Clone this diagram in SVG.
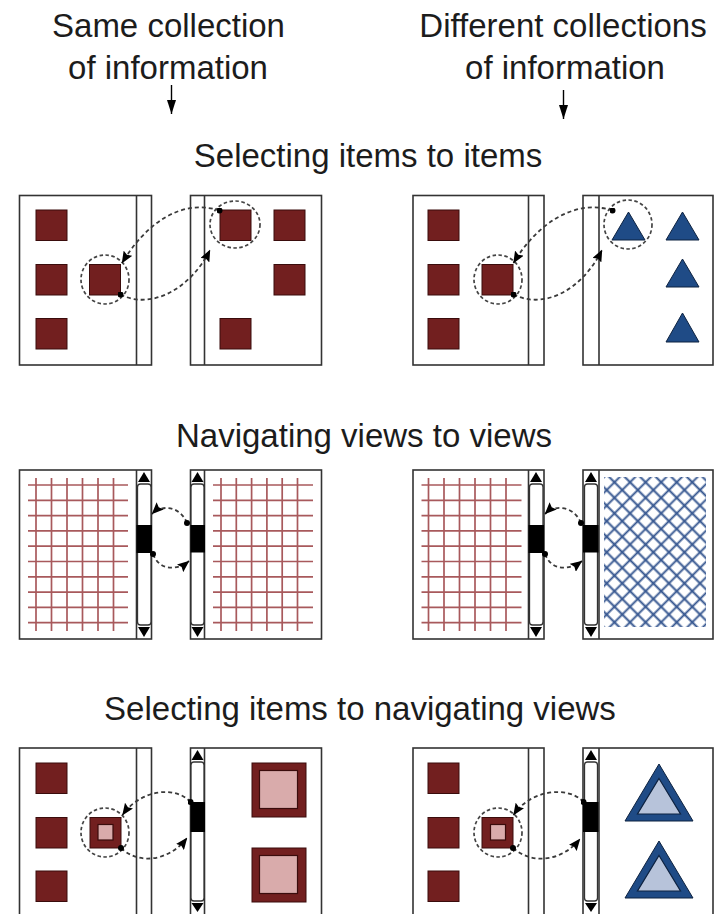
<svg xmlns="http://www.w3.org/2000/svg" width="723" height="914" viewBox="0 0 723 914">
<style>
text{font-family:"Liberation Sans",Arial,sans-serif;font-size:33px;fill:#1c1c1c;text-anchor:middle}
.panel{fill:#fff;stroke:#333;stroke-width:1.6}
.div{stroke:#333;stroke-width:1.6;fill:none}
.sq{fill:#721f1f;stroke:#3a0c0c;stroke-width:1}
.pink{fill:#d9abab;stroke:#3a0c0c;stroke-width:1.2}
.tri{fill:#1f4b86;stroke:#0d2240;stroke-width:1}
.ltri{fill:#b7c3da;stroke:#0d2240;stroke-width:1.2}
.sel{fill:none;stroke:#444;stroke-width:1.7;stroke-dasharray:3.5 2.5}
.conn{fill:none;stroke:#3a3a3a;stroke-width:1.8;stroke-dasharray:4 3;marker-start:url(#dot);marker-end:url(#arr)}
.grid{fill:none;stroke:#922f33;stroke-width:1.7;opacity:.8}
.trough{fill:#fff;stroke:#333;stroke-width:1.3}
.blk{fill:#000}
</style>
<defs>
<marker id="arr" viewBox="0 0 12 10" refX="11.5" refY="5" markerWidth="12" markerHeight="10" markerUnits="userSpaceOnUse" orient="auto"><path d="M0,0 L12,5 L0,10 L2,5 Z" fill="#000"/></marker>
<marker id="dot" viewBox="0 0 6 6" refX="3" refY="3" markerWidth="6" markerHeight="6" markerUnits="userSpaceOnUse"><circle cx="3" cy="3" r="3" fill="#000"/></marker>
<marker id="hd" viewBox="0 0 14 9" refX="14" refY="4.5" markerWidth="14" markerHeight="9" markerUnits="userSpaceOnUse" orient="auto"><path d="M0,0 L14,4.5 L0,9 Z" fill="#000"/></marker>
<pattern id="hatch" width="11" height="11" patternUnits="userSpaceOnUse" patternTransform="rotate(45)"><path d="M0,5.5 H11 M5.5,0 V11" stroke="#34558f" stroke-width="1.9"/></pattern>
</defs>

<g id="headers">
<text x="168.5" y="37">Same collection</text>
<text x="168" y="79">of information</text>
<text x="563" y="37">Different collections</text>
<text x="565" y="79">of information</text>
<line x1="171.5" y1="85" x2="171.5" y2="114" stroke="#000" stroke-width="1.4" marker-end="url(#hd)"/>
<line x1="563.5" y1="90" x2="563.5" y2="119" stroke="#000" stroke-width="1.4" marker-end="url(#hd)"/>
</g>

<g id="titles">
<text x="368" y="167">Selecting items to items</text>
<text x="364" y="447">Navigating views to views</text>
<text x="360" y="720">Selecting items to navigating views</text>
</g>

<!-- Row 1 -->
<g id="r1-left-a">
<rect class="panel" x="19.5" y="195.5" width="132" height="169.5"/>
<line class="div" x1="136.5" y1="195.5" x2="136.5" y2="365"/>
<rect class="sq" x="36" y="210" width="31" height="30.5"/>
<rect class="sq" x="36" y="264.5" width="31" height="30.5"/>
<rect class="sq" x="36" y="318.5" width="31" height="30.5"/>
<rect class="sq" x="89.5" y="264.5" width="31" height="30.5"/>
<ellipse class="sel" cx="105" cy="279.5" rx="24" ry="24.5"/>
</g>
<g id="r1-left-b">
<rect class="panel" x="190.5" y="195.5" width="131" height="169.5"/>
<line class="div" x1="204.5" y1="195.5" x2="204.5" y2="365"/>
<rect class="sq" x="220" y="210" width="31" height="30.5"/>
<rect class="sq" x="274" y="210" width="31" height="30.5"/>
<rect class="sq" x="274" y="264.5" width="31" height="30.5"/>
<rect class="sq" x="220" y="318.5" width="31" height="30.5"/>
<ellipse class="sel" cx="235" cy="224.5" rx="25" ry="23.5"/>
</g>
<g id="r1-right-c">
<rect class="panel" x="413" y="195.5" width="131" height="169.5"/>
<line class="div" x1="528.5" y1="195.5" x2="528.5" y2="365"/>
<rect class="sq" x="428" y="210" width="31" height="30.5"/>
<rect class="sq" x="428" y="264.5" width="31" height="30.5"/>
<rect class="sq" x="428" y="318.5" width="31" height="30.5"/>
<rect class="sq" x="482" y="264.5" width="31" height="30.5"/>
<ellipse class="sel" cx="498" cy="279.5" rx="24" ry="24.5"/>
</g>
<g id="r1-right-d">
<rect class="panel" x="583" y="195.5" width="130" height="169.5"/>
<line class="div" x1="599" y1="195.5" x2="599" y2="365"/>
<path class="tri" d="M628.5,212 L645,240 L612,240 Z"/>
<path class="tri" d="M682.5,212 L699,240 L666,240 Z"/>
<path class="tri" d="M682.5,259 L699,287 L666,287 Z"/>
<path class="tri" d="M682.5,313 L699,342 L666,342 Z"/>
<ellipse class="sel" cx="628" cy="224.5" rx="24" ry="24.5"/>
</g>

<!-- Row 2 -->
<g id="r2-left-e">
<rect class="panel" x="19.5" y="470" width="132" height="169"/>
<path class="grid" d="M36,478V631M51.5,478V631M67,478V631M82.5,478V631M98,478V631M113.5,478V631M28,485H128M28,500.3H128M28,515.6H128M28,530.9H128M28,546.2H128M28,561.5H128M28,576.8H128M28,592.1H128M28,607.4H128M28,622.7H128"/>
<line class="div" x1="136.5" y1="470" x2="136.5" y2="639"/>
<path class="blk" d="M144,472 L138,482 L150,482 Z"/>
<rect class="trough" x="137.5" y="484" width="13.5" height="141" rx="3"/>
<path class="blk" d="M144,637 L138,627 L150,627 Z"/>
<rect class="blk" x="136.5" y="525" width="15.5" height="28"/>
</g>
<g id="r2-left-f">
<rect class="panel" x="190.5" y="470" width="131" height="169"/>
<path class="grid" d="M221,478V631M236.3,478V631M251.6,478V631M266.9,478V631M282.2,478V631M297.5,478V631M213,485H313M213,500.3H313M213,515.6H313M213,530.9H313M213,546.2H313M213,561.5H313M213,576.8H313M213,592.1H313M213,607.4H313M213,622.7H313"/>
<line class="div" x1="204.5" y1="470" x2="204.5" y2="639"/>
<path class="blk" d="M197.5,472 L191.5,482 L203.5,482 Z"/>
<rect class="trough" x="191" y="484" width="13" height="141" rx="3"/>
<path class="blk" d="M197.5,637 L191.5,627 L203.5,627 Z"/>
<rect class="blk" x="190.5" y="525" width="14.5" height="27.5"/>
</g>
<g id="r2-right-g">
<rect class="panel" x="413" y="470" width="131" height="169"/>
<path class="grid" d="M428.5,478V631M444,478V631M459.5,478V631M475,478V631M490.5,478V631M506,478V631M421.5,485H521.5M421.5,500.3H521.5M421.5,515.6H521.5M421.5,530.9H521.5M421.5,546.2H521.5M421.5,561.5H521.5M421.5,576.8H521.5M421.5,592.1H521.5M421.5,607.4H521.5M421.5,622.7H521.5"/>
<line class="div" x1="528.5" y1="470" x2="528.5" y2="639"/>
<path class="blk" d="M536,472 L530,482 L542,482 Z"/>
<rect class="trough" x="529.5" y="484" width="13.5" height="141" rx="3"/>
<path class="blk" d="M536,637 L530,627 L542,627 Z"/>
<rect class="blk" x="528.5" y="525" width="15.5" height="28"/>
</g>
<g id="r2-right-h">
<rect class="panel" x="583" y="470" width="130" height="169"/>
<rect x="604" y="477" width="102" height="150" fill="url(#hatch)"/>
<line class="div" x1="599" y1="470" x2="599" y2="639"/>
<path class="blk" d="M591,472 L585,482 L597,482 Z"/>
<rect class="trough" x="584.5" y="484" width="13" height="141" rx="3"/>
<path class="blk" d="M591,637 L585,627 L597,627 Z"/>
<rect class="blk" x="583" y="525" width="15.5" height="27.5"/>
</g>

<!-- Row 3 -->
<g id="r3-left-i">
<rect class="panel" x="19.5" y="748" width="132" height="180"/>
<line class="div" x1="136.5" y1="748" x2="136.5" y2="914"/>
<rect class="sq" x="36" y="763" width="31" height="30.5"/>
<rect class="sq" x="36" y="817.5" width="31" height="30.5"/>
<rect class="sq" x="36" y="871" width="31" height="30.5"/>
<rect class="sq" x="90" y="817.5" width="31" height="30.5"/>
<rect class="pink" x="98" y="824.5" width="15" height="15.5"/>
<ellipse class="sel" cx="105" cy="832.5" rx="24" ry="24.5"/>
</g>
<g id="r3-left-j">
<rect class="panel" x="190.5" y="748" width="131" height="180"/>
<line class="div" x1="204.5" y1="748" x2="204.5" y2="914"/>
<path class="blk" d="M197.5,750 L191.5,760 L203.5,760 Z"/>
<rect class="trough" x="191" y="762" width="13" height="139" rx="3"/>
<path class="blk" d="M197.5,912 L191.5,903 L203.5,903 Z"/>
<rect class="blk" x="190.5" y="802" width="14.5" height="30"/>
<rect class="sq" x="252" y="763" width="54" height="54"/>
<rect class="pink" x="259.5" y="770.5" width="38" height="38"/>
<rect class="sq" x="252" y="848" width="54" height="54"/>
<rect class="pink" x="259.5" y="855.5" width="38" height="38"/>
</g>
<g id="r3-right-k">
<rect class="panel" x="413" y="748" width="131" height="180"/>
<line class="div" x1="528.5" y1="748" x2="528.5" y2="914"/>
<rect class="sq" x="428" y="763" width="31" height="30.5"/>
<rect class="sq" x="428" y="817.5" width="31" height="30.5"/>
<rect class="sq" x="428" y="871" width="31" height="30.5"/>
<rect class="sq" x="482" y="817.5" width="31" height="30.5"/>
<rect class="pink" x="490.5" y="824.5" width="15" height="15.5"/>
<ellipse class="sel" cx="498" cy="832.5" rx="24" ry="24.5"/>
</g>
<g id="r3-right-l">
<rect class="panel" x="583" y="748" width="130" height="180"/>
<line class="div" x1="599" y1="748" x2="599" y2="914"/>
<path class="blk" d="M591,750 L585,760 L597,760 Z"/>
<rect class="trough" x="584.5" y="762" width="13" height="139" rx="3"/>
<path class="blk" d="M591,912 L585,903 L597,903 Z"/>
<rect class="blk" x="583" y="802" width="15.5" height="30"/>
<path class="tri" d="M659,764 L693,821 L625,821 Z" stroke-width="1.5"/>
<path class="ltri" d="M659,778.5 L680.5,814 L637.5,814 Z"/>
<path class="tri" d="M659,841 L693,898 L625,898 Z" stroke-width="1.5"/>
<path class="ltri" d="M659,855.5 L680.5,891 L637.5,891 Z"/>
</g>

<g id="connectors">
<path class="conn" d="M219.5,210.5 C180,198 145,225 122,263"/>
<path class="conn" d="M120.5,294.5 C150,310 190,290 210,250"/>
<path class="conn" d="M612.5,210.5 C574,198 536,225 513.5,263"/>
<path class="conn" d="M513.5,294.5 C544,310 582,290 602,250"/>
<path class="conn" d="M187,523 C180,506 162,504 152,514"/>
<path class="conn" d="M153,554 C160,572 178,570 189,561"/>
<path class="conn" d="M581,523 C574,506 555,504 545,514"/>
<path class="conn" d="M545,554 C552,572 570,570 582,561"/>
<path class="conn" d="M190.5,802 C175,785 140,790 122.5,815"/>
<path class="conn" d="M121,848 C140,866 170,860 187,838"/>
<path class="conn" d="M583.5,802 C568,785 530,790 513.5,815"/>
<path class="conn" d="M513,848 C534,866 563,860 580,839"/>
</g>
</svg>
